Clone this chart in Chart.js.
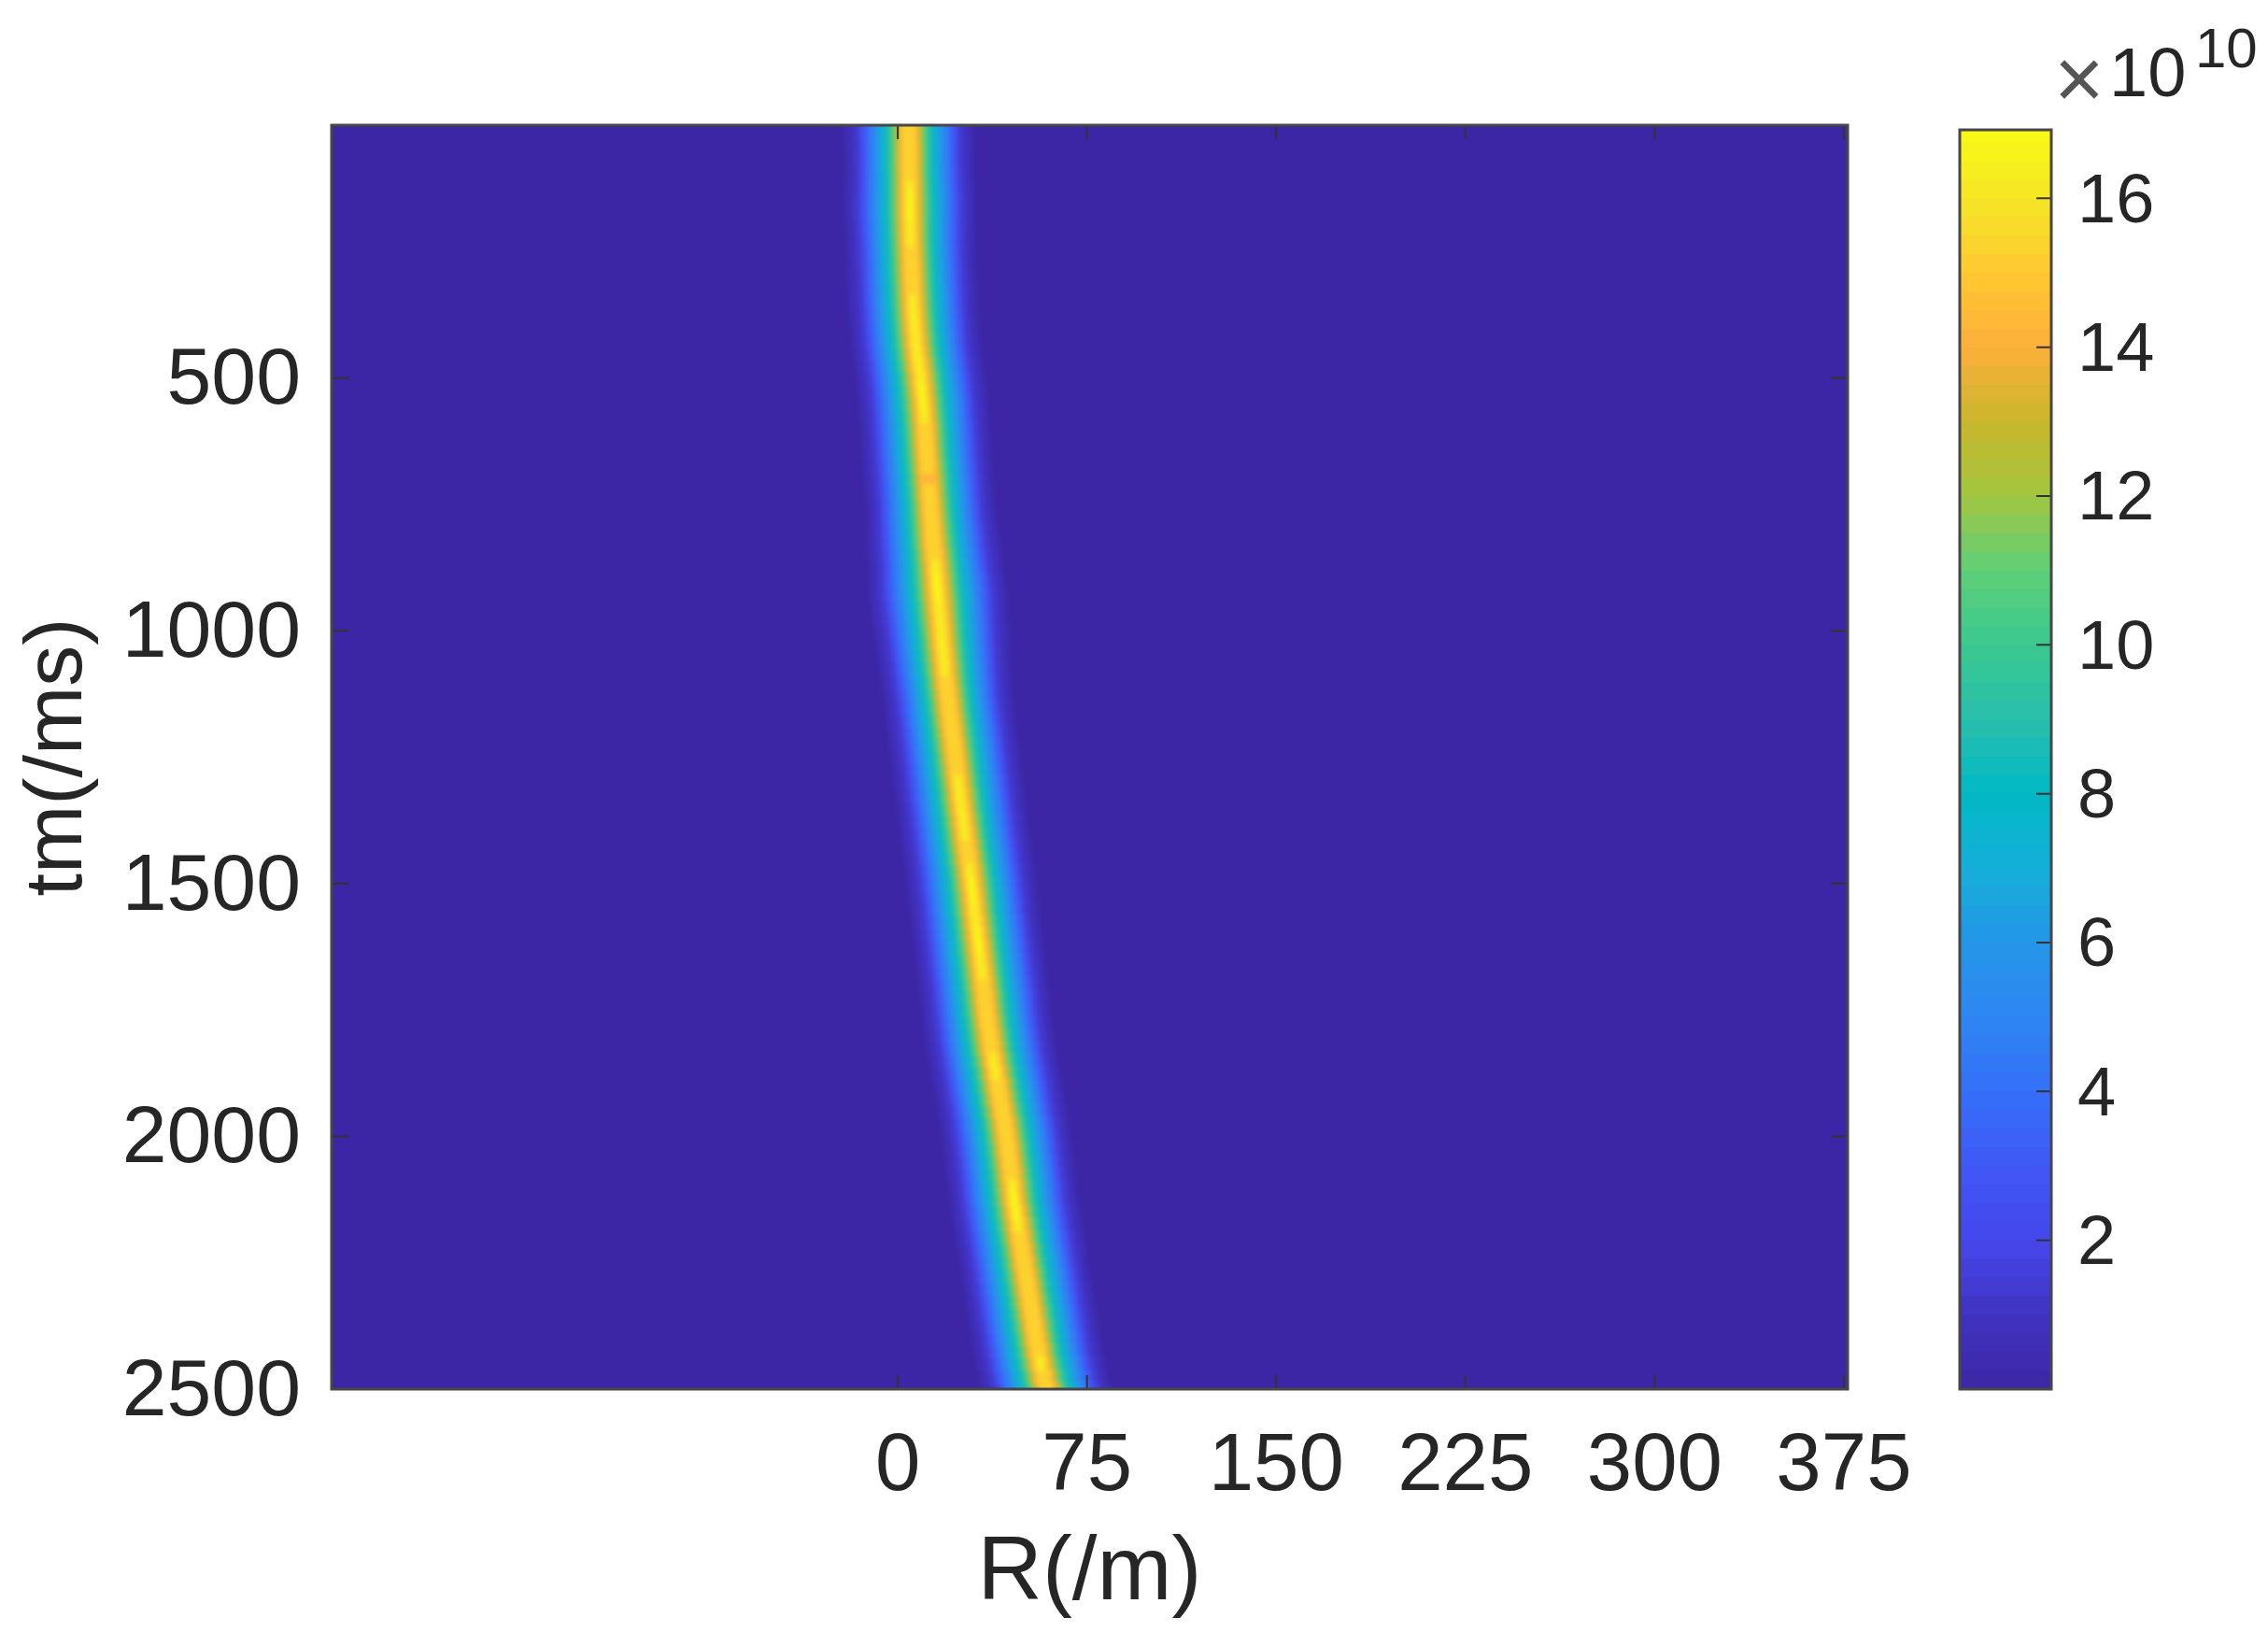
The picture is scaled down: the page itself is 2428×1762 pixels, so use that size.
<!DOCTYPE html>
<html>
<head>
<meta charset="utf-8">
<title>tm / R range profile</title>
<script src="https://cdn.jsdelivr.net/npm/chart.js@4/dist/chart.umd.min.js"></script>
<style>
  html, body { margin: 0; background: #fff; }
  #page { position: relative; width: 2428px; height: 1762px; overflow: hidden; filter: blur(0.6px); }
  canvas { position: absolute; left: 0; top: 0; }
  .exp { position: absolute; color: #262626; font-family: "Liberation Sans", Arial, sans-serif; line-height: 1; white-space: pre; }
</style>
</head>
<body>
<div id="page">
  <canvas id="map" width="2428" height="1762"></canvas>
  <canvas id="bar" width="2428" height="1762"></canvas>
  <span class="exp" style="left:2199px;top:38px;font-size:92px;color:#555">×</span>
  <span class="exp" style="left:2258px;top:41px;font-size:74px">10</span>
  <span class="exp" style="left:2350px;top:22px;font-size:60px">10</span>
</div>
<script>
const FONT = '"Liberation Sans", Arial, sans-serif';
const INK = '#262626';
const FRAME = '#474747';
const FLOOR = '#3c26a5';

const xTicks = [0, 75, 150, 225, 300, 375];
const yTicks = [500, 1000, 1500, 2000, 2500];
const barTicks = [2, 4, 6, 8, 10, 12, 14, 16];

// slow time rows (ms)
const tmRows = [
  0, 25, 50, 75, 100, 125, 150, 175, 200, 225,
  250, 275, 300, 325, 350, 375, 400, 425, 450, 475,
  500, 525, 550, 575, 600, 625, 650, 675, 700, 725,
  750, 775, 800, 825, 850, 875, 900, 925, 950, 975,
  1000, 1025, 1050, 1075, 1100, 1125, 1150, 1175, 1200, 1225,
  1250, 1275, 1300, 1325, 1350, 1375, 1400, 1425, 1450, 1475,
  1500, 1525, 1550, 1575, 1600, 1625, 1650, 1675, 1700, 1725,
  1750, 1775, 1800, 1825, 1850, 1875, 1900, 1925, 1950, 1975,
  2000, 2025, 2050, 2075, 2100, 2125, 2150, 2175, 2200, 2225,
  2250, 2275, 2300, 2325, 2350, 2375, 2400, 2425, 2450, 2475,
  2500,
];

// range of the ridge centre in each row (m)
const ridgeR = [
  4.4, 4.4, 4.5, 4.5, 4.6, 4.7, 4.8, 4.8, 4.9, 5.0,
  5.2, 5.4, 5.6, 5.8, 6.0, 6.3, 6.7, 7.1, 7.6, 8.3,
  9.0, 9.5, 10.0, 10.4, 10.8, 11.1, 11.4, 11.8, 12.2, 12.5,
  12.9, 13.2, 13.6, 14.0, 14.5, 15.0, 15.4, 15.8, 16.3, 16.7,
  17.2, 17.6, 18.1, 18.6, 19.1, 19.7, 20.3, 20.9, 21.5, 22.2,
  22.8, 23.4, 24.0, 24.6, 25.2, 25.9, 26.5, 27.2, 27.9, 28.6,
  29.2, 29.8, 30.3, 30.9, 31.5, 32.1, 32.7, 33.3, 33.9, 34.5,
  35.0, 35.6, 36.3, 37.0, 37.9, 38.8, 39.7, 40.5, 41.4, 42.3,
  43.0, 43.7, 44.3, 44.9, 45.5, 46.0, 46.8, 47.6, 48.4, 49.2,
  50.0, 50.8, 51.6, 52.4, 53.2, 54.0, 54.8, 55.6, 56.6, 57.7,
  58.9,
];

// peak amplitude of each row (x 10^10)
const rowPeak = [
  15, 15.2, 15.4, 15.6, 15.8, 16.2, 16.8, 16.8, 16.4, 16,
  15.8, 15.6, 15.4, 15.6, 16, 16, 16.1, 16.1, 16.1, 16.2,
  16.3, 16.5, 16.6, 16.2, 15.8, 15.4, 15.1, 15, 14.8, 15,
  15, 15.2, 15.2, 15.2, 15.6, 16.4, 17, 16.8, 16.4, 16.2,
  16.2, 16.4, 16.3, 16, 15.8, 15.2, 15.2, 15, 15, 15.2,
  15.4, 15.8, 16, 16.1, 16.2, 16.3, 16, 15.6, 15.4, 16,
  16.5, 16.7, 16.4, 16.2, 16.6, 16.5, 16.3, 16, 15.6, 15.4,
  15.2, 15.2, 15.1, 15.3, 16, 16, 15.6, 15.2, 15.1, 15,
  15, 15.2, 15.2, 15.8, 16.4, 16.8, 16.6, 16, 15.4, 15.2,
  15, 15, 15, 15, 15, 15.2, 15.6, 15.8, 16, 15.8,
  15.6,
];

// relative width of the ridge in each row (wider around the bright spot near 900 ms)
const rowSpread = [
  1, 1, 1, 1, 1, 1.01, 1.02, 1.02, 1.01, 1,
  1, 1, 1, 1, 1, 1, 1, 1, 1, 1,
  1, 1, 1, 1, 1, 1, 1, 1, 1, 1,
  1, 1.01, 1.02, 1.03, 1.04, 1.05, 1.07, 1.08, 1.07, 1.06,
  1.05, 1.04, 1.03, 1.02, 1.01, 1, 1, 1, 1, 1,
  1, 1, 1, 1, 1, 1, 1, 1, 1, 1,
  1, 1, 1, 1, 1, 1, 1, 1, 1, 1,
  1, 1, 1, 1, 1, 1, 1, 1, 1, 1,
  1, 1, 1, 1, 1, 1, 1, 1, 1, 1,
  1, 1, 1, 1, 1, 1, 1, 1, 1, 1,
  1,
];

// amplitude levels across the ridge and their half width in range (m)
const levels = [16.5, 16, 15, 14, 13, 12, 11, 10, 9, 8, 7, 6, 5, 4, 3, 2, 1, 0.4];
const levelHalfWidth = [0.9, 1.5, 2.6, 3.7, 4.6, 5.4, 6.3, 7.3, 8.5, 9.8, 11.2, 12.8, 14.5, 16.3, 17.8, 19.6, 22.2, 25];

// colour bar, read at each integer amplitude
const cmapValues = [0, 1, 2, 3, 4, 5, 6, 7, 8, 9, 10, 11, 12, 13, 14, 15, 16, 17];
const cmapColors = [
  '#3c26a5', '#4032c0', '#4547ec', '#4058f5', '#3570f8', '#2e86f2', '#2496e8', '#15afd8', '#00b8c5',
  '#29bfab', '#3ac88f', '#5fcf78', '#a2c640', '#c9b62b', '#fdb03a', '#ffc832', '#f5e625', '#fafb14',
];
const barSteps = [
  0, 0.25, 0.5, 0.75, 1, 1.25, 1.5, 1.75, 2, 2.25, 2.5, 2.75, 3, 3.25, 3.5, 3.75, 4, 4.25, 4.5, 4.75,
  5, 5.25, 5.5, 5.75, 6, 6.25, 6.5, 6.75, 7, 7.25, 7.5, 7.75, 8, 8.25, 8.5, 8.75, 9, 9.25, 9.5, 9.75,
  10, 10.25, 10.5, 10.75, 11, 11.25, 11.5, 11.75, 12, 12.25, 12.5, 12.75, 13, 13.25, 13.5, 13.75, 14,
  14.25, 14.5, 14.75, 15, 15.25, 15.5, 15.75, 16, 16.25, 16.5, 16.75,
];

function hexToRgb(hex) {
  return [1, 3, 5].map(i => parseInt(hex.slice(i, i + 2), 16));
}

function colorFor(v) {
  const i = Math.max(0, Math.min(cmapValues.length - 2, Math.floor(v)));
  const t = Math.max(0, Math.min(1, (v - cmapValues[i]) / (cmapValues[i + 1] - cmapValues[i])));
  const a = hexToRgb(cmapColors[i]);
  const b = hexToRgb(cmapColors[i + 1]);
  const c = a.map((x, k) => Math.round(x + (b[k] - x) * t));
  return `rgb(${c[0]},${c[1]},${c[2]})`;
}

function boxMarks(chart, xValues, yValues, xLen, yLen, sides) {
  const { ctx, chartArea: a, scales } = chart;
  ctx.save();
  ctx.strokeStyle = '#333';
  ctx.lineWidth = 2;
  ctx.beginPath();
  if (xValues) {
    xValues.forEach(v => {
      const x = scales.x.getPixelForValue(v);
      ctx.moveTo(x, a.bottom); ctx.lineTo(x, a.bottom - xLen);
      ctx.moveTo(x, a.top); ctx.lineTo(x, a.top + xLen);
    });
  }
  yValues.forEach(v => {
    const y = scales.y.getPixelForValue(v);
    if (sides.left) { ctx.moveTo(a.left, y); ctx.lineTo(a.left + yLen, y); }
    ctx.moveTo(a.right, y); ctx.lineTo(a.right - yLen, y);
  });
  ctx.stroke();
  ctx.strokeStyle = FRAME;
  ctx.lineWidth = 3;
  ctx.strokeRect(a.left, a.top, a.right - a.left, a.bottom - a.top);
  ctx.restore();
}

const mapPlugin = {
  id: 'mapPlugin',
  beforeDatasetsDraw(chart) {
    const { ctx, chartArea: a } = chart;
    ctx.fillStyle = FLOOR;
    ctx.fillRect(a.left, a.top, a.right - a.left, a.bottom - a.top);
  },
  afterDatasetsDraw(chart) {
    const { ctx, canvas, chartArea: a } = chart;
    const w = a.right - a.left;
    const h = a.bottom - a.top;
    // soften the cell steps once, the source image is resampled
    ctx.save();
    ctx.beginPath();
    ctx.rect(a.left, a.top, w, h);
    ctx.clip();
    ctx.filter = 'blur(2.5px)';
    ctx.drawImage(canvas, a.left, a.top, w, h, a.left, a.top, w, h);
    ctx.restore();
    boxMarks(chart, xTicks, yTicks, 15, 18, { left: true });
  },
};

const ridgeDatasets = levels.map((level, i) => ({
  data: tmRows
    .map((tm, r) => {
      const half = levelHalfWidth[i] * rowSpread[r];
      return { y: tm, x: [ridgeR[r] - half, ridgeR[r] + half], peak: rowPeak[r] };
    })
    .filter(p => p.peak >= level),
  backgroundColor: colorFor(level + 0.3),
  borderWidth: 0,
  inflateAmount: 0,
  barThickness: 16,
  grouped: false,
}));

new Chart(document.getElementById('map'), {
  type: 'bar',
  data: { datasets: ridgeDatasets },
  options: {
    indexAxis: 'y',
    responsive: false,
    animation: false,
    events: [],
    layout: { padding: { left: 0, top: 134, right: 450, bottom: 0 } },
    plugins: { legend: { display: false }, tooltip: { enabled: false } },
    scales: {
      x: {
        type: 'linear',
        min: -224.4,
        max: 376.5,
        grid: { display: false, drawTicks: false },
        border: { display: false },
        afterBuildTicks(scale) { scale.ticks = xTicks.map(value => ({ value })); },
        afterFit(scale) { scale.height = 275; },
        ticks: {
          color: INK, font: { family: FONT, size: 87 }, padding: 32, autoSkip: false, maxRotation: 0,
          callback: v => String(v),
        },
        title: {
          display: true, text: 'R(/m)', color: INK,
          font: { family: FONT, size: 96, lineHeight: 1.2 },
          padding: { top: 0, bottom: 19 },
        },
      },
      y: {
        type: 'linear',
        reverse: true,
        offset: false,
        min: 0,
        max: 2500,
        grid: { display: false, drawTicks: false },
        border: { display: false },
        afterBuildTicks(scale) { scale.ticks = yTicks.map(value => ({ value })); },
        afterFit(scale) { scale.width = 355; },
        ticks: {
          color: INK, font: { family: FONT, size: 86 }, padding: 33, autoSkip: false, labelOffset: 4,
          callback: v => String(v),
        },
        title: {
          display: true, text: 'tm(/ms)', color: INK,
          font: { family: FONT, size: 88, lineHeight: 1.2 },
          padding: { top: 10, bottom: 0 },
        },
      },
    },
  },
  plugins: [mapPlugin],
});

new Chart(document.getElementById('bar'), {
  type: 'bar',
  data: {
    datasets: [{
      data: barSteps.map(v => ({ x: 0.5, y: [v, v + 0.3] })),
      backgroundColor: barSteps.map(v => colorFor(v + 0.125)),
      borderWidth: 0,
      inflateAmount: 0,
      barThickness: 100,
    }],
  },
  options: {
    responsive: false,
    animation: false,
    events: [],
    layout: { padding: { left: 2098, top: 139, right: 0, bottom: 275 } },
    plugins: { legend: { display: false }, tooltip: { enabled: false } },
    scales: {
      x: { type: 'linear', min: 0, max: 1, display: false },
      y: {
        type: 'linear',
        position: 'right',
        min: 0,
        max: 16.92,
        grid: { display: false, drawTicks: false },
        border: { display: false },
        afterBuildTicks(scale) { scale.ticks = barTicks.map(value => ({ value })); },
        afterFit(scale) { scale.width = 232; },
        ticks: { color: INK, font: { family: FONT, size: 74 }, padding: 28, autoSkip: false, crossAlign: 'near', labelOffset: 5 },
      },
    },
  },
  plugins: [{
    id: 'barFrame',
    afterDatasetsDraw(chart) { boxMarks(chart, null, barTicks, 0, 16, { left: false }); },
  }],
});
</script>
</body>
</html>
